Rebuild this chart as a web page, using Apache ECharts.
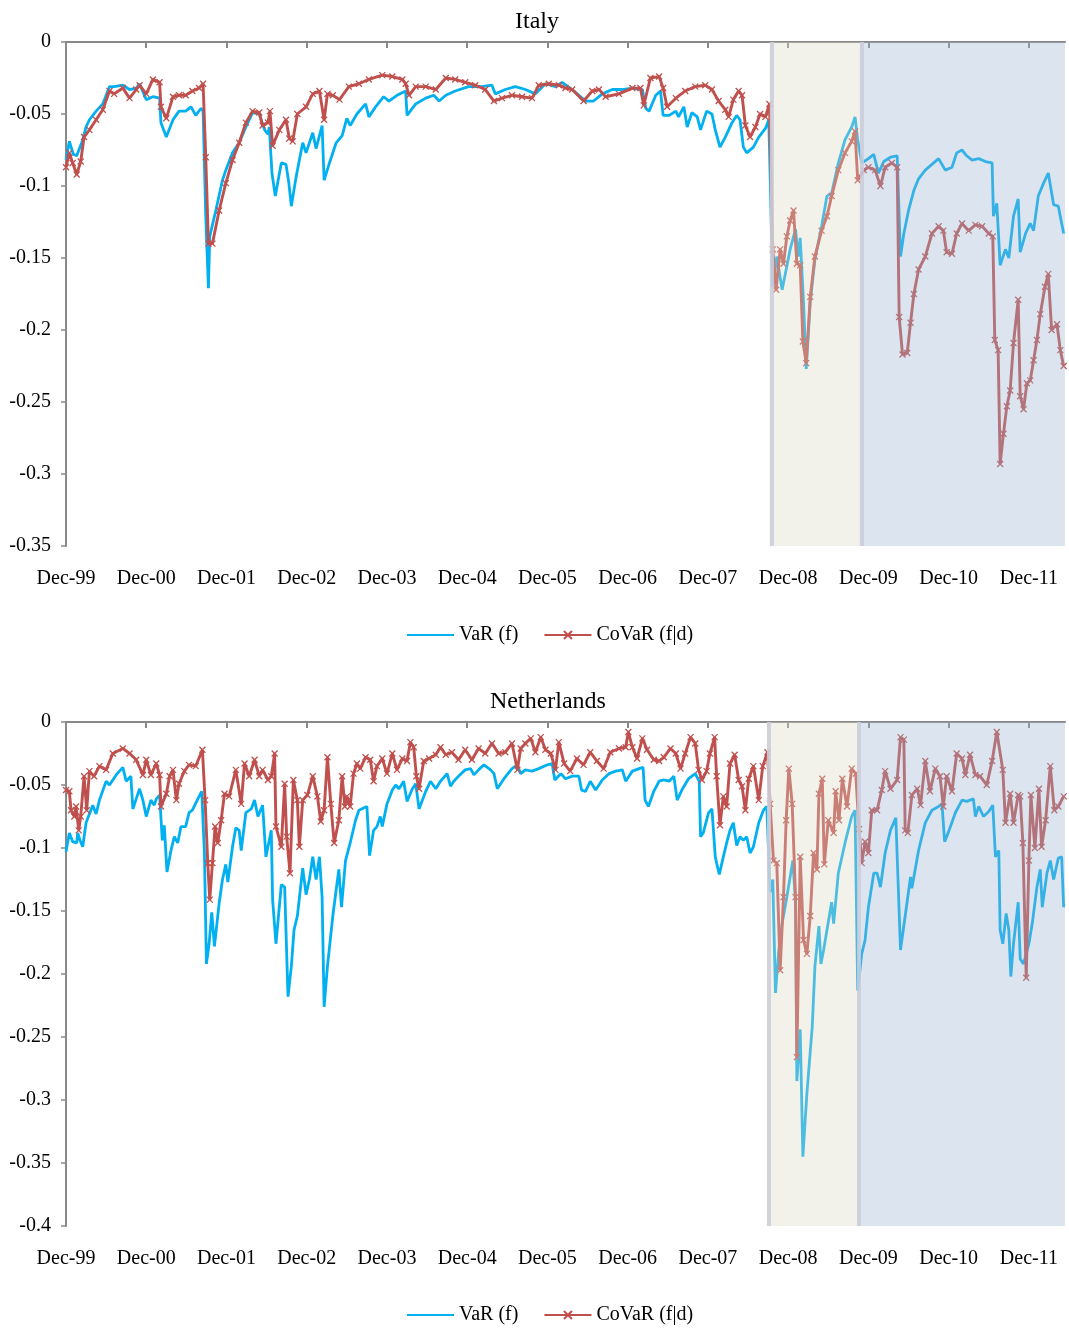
<!DOCTYPE html>
<html>
<head>
<meta charset="utf-8">
<script src="https://cdn.jsdelivr.net/npm/echarts@6/dist/echarts.min.js"></script>
<style>html,body{margin:0;padding:0;background:#fff}#main{width:1069px;height:1331px}</style>
</head>
<body>
<div id="main"></div>
<script>
// x values: months since Dec-1999
const tickLabels = ['Dec-99','Dec-00','Dec-01','Dec-02','Dec-03','Dec-04','Dec-05','Dec-06','Dec-07','Dec-08','Dec-09','Dec-10','Dec-11'];
const tickMonths = [0,12,24,36,48,60,72,84,96,108,120,132,144];
const xMax = 149.4;
const seriesNames = ['VaR (f)', 'CoVaR (f|d)'];
const italyPeriods = [105.2, 118.7];
const nlPeriods = [104.8, 118.3];

const italyVaR = [[0,-0.082],[0.5,-0.069],[1.1,-0.078],[1.6,-0.079],[2.5,-0.068],[3,-0.059],[3.5,-0.054],[4.5,-0.048],[5.5,-0.043],[6.5,-0.031],[7.2,-0.031],[8.5,-0.030],[9.5,-0.033],[10.5,-0.032],[11,-0.029],[12,-0.040],[13,-0.038],[14,-0.039],[14.2,-0.056],[15,-0.066],[16,-0.054],[16.9,-0.048],[17.9,-0.048],[18.7,-0.045],[19.4,-0.051],[20.2,-0.046],[20.5,-0.048],[20.9,-0.121],[21.3,-0.171],[21.5,-0.135],[22.4,-0.117],[23.4,-0.096],[23.9,-0.089],[24.9,-0.077],[25.9,-0.070],[26.9,-0.059],[27.9,-0.049],[28.9,-0.050],[29.7,-0.061],[30.2,-0.064],[30.4,-0.059],[30.8,-0.091],[31.3,-0.107],[32.2,-0.084],[32.9,-0.085],[33.3,-0.097],[33.7,-0.114],[34.4,-0.094],[35.4,-0.070],[35.9,-0.077],[36.9,-0.063],[37.4,-0.074],[38.3,-0.058],[38.6,-0.096],[39.4,-0.084],[40.4,-0.070],[41.3,-0.065],[42,-0.053],[42.5,-0.058],[43.5,-0.050],[44.8,-0.043],[45.3,-0.052],[46.3,-0.045],[47.5,-0.038],[48.3,-0.041],[49.5,-0.037],[50.8,-0.034],[51,-0.051],[52.3,-0.043],[53.8,-0.039],[55,-0.037],[55.8,-0.041],[56.8,-0.037],[58.2,-0.034],[60.2,-0.031],[62.2,-0.031],[63.7,-0.030],[64.2,-0.036],[65.7,-0.033],[67.2,-0.031],[68.7,-0.033],[70.2,-0.036],[71.7,-0.029],[73.2,-0.031],[74.2,-0.028],[75.7,-0.033],[77.7,-0.041],[78.9,-0.041],[80.2,-0.036],[81.7,-0.033],[83.2,-0.033],[84.7,-0.032],[86.2,-0.033],[86.7,-0.046],[87.2,-0.048],[88.2,-0.037],[88.9,-0.034],[89.3,-0.051],[90.2,-0.051],[91.2,-0.048],[91.6,-0.052],[92.4,-0.045],[92.9,-0.059],[93.6,-0.049],[94.4,-0.052],[94.9,-0.061],[95.8,-0.048],[96.6,-0.050],[97.1,-0.061],[97.8,-0.073],[98.6,-0.066],[99.6,-0.056],[100.3,-0.051],[100.8,-0.054],[101.3,-0.073],[101.8,-0.077],[102.8,-0.073],[103.6,-0.066],[104.6,-0.060],[105.1,-0.054],[105.7,-0.170],[106.3,-0.149],[107.1,-0.172],[107.7,-0.158],[108.3,-0.144],[109.1,-0.130],[109.5,-0.149],[109.8,-0.136],[110.3,-0.181],[110.7,-0.227],[111.3,-0.181],[112,-0.151],[113,-0.128],[113.8,-0.107],[114.5,-0.105],[115.5,-0.084],[116.5,-0.068],[117.5,-0.059],[118,-0.052],[118.4,-0.068],[119,-0.084],[120,-0.081],[120.8,-0.078],[121.5,-0.091],[122.3,-0.083],[123.3,-0.080],[124.3,-0.079],[124.8,-0.149],[125.3,-0.133],[126,-0.117],[126.8,-0.103],[127.5,-0.095],[128.5,-0.089],[129.5,-0.085],[130.5,-0.081],[131.5,-0.089],[132.5,-0.087],[133.2,-0.077],[134,-0.075],[134.7,-0.079],[135.5,-0.082],[136.5,-0.081],[137.5,-0.083],[138.5,-0.084],[138.7,-0.121],[139.2,-0.112],[139.7,-0.155],[140.5,-0.144],[141,-0.150],[141.7,-0.121],[142.4,-0.109],[142.7,-0.146],[143.5,-0.133],[144.2,-0.126],[144.7,-0.131],[145.4,-0.107],[146.2,-0.098],[146.9,-0.091],[147.7,-0.113],[148.4,-0.114],[149.2,-0.133]];

const italyCoVaR = [[0,-0.087],[0.5,-0.077],[1,-0.084],[1.6,-0.092],[2.2,-0.083],[2.7,-0.066],[3.5,-0.061],[4.5,-0.054],[5.5,-0.047],[6.5,-0.034],[7.2,-0.036],[8.5,-0.032],[9.5,-0.039],[10.5,-0.033],[11,-0.030],[12,-0.036],[13,-0.026],[14,-0.028],[14.2,-0.045],[15,-0.053],[16,-0.038],[16.9,-0.037],[17.9,-0.037],[18.9,-0.034],[19.9,-0.032],[20.5,-0.029],[20.9,-0.080],[21.3,-0.140],[21.9,-0.140],[22.9,-0.117],[23.9,-0.098],[24.9,-0.082],[25.9,-0.070],[26.9,-0.056],[27.9,-0.048],[28.9,-0.049],[29.4,-0.058],[30.2,-0.056],[30.5,-0.048],[30.9,-0.072],[31.9,-0.061],[32.9,-0.054],[33.4,-0.067],[33.9,-0.069],[34.6,-0.050],[35.9,-0.045],[36.9,-0.036],[37.9,-0.034],[38.6,-0.054],[39.1,-0.036],[39.9,-0.037],[40.9,-0.040],[42.3,-0.031],[43.8,-0.029],[45.3,-0.026],[47.3,-0.023],[48.8,-0.024],[50.3,-0.026],[50.8,-0.029],[51.3,-0.037],[52.3,-0.031],[53.8,-0.031],[55.3,-0.033],[56.8,-0.025],[58.2,-0.026],[59.7,-0.028],[61.2,-0.030],[62.7,-0.033],[64,-0.041],[65.2,-0.039],[66.7,-0.037],[68.2,-0.038],[69.7,-0.039],[70.7,-0.030],[72.2,-0.029],[73.7,-0.030],[74.7,-0.032],[75.7,-0.033],[77.4,-0.041],[78.7,-0.034],[79.7,-0.033],[80.7,-0.038],[82.7,-0.036],[84.7,-0.032],[85.9,-0.032],[86.4,-0.044],[87.4,-0.025],[88.7,-0.024],[89.3,-0.032],[89.9,-0.045],[91.2,-0.039],[92.6,-0.034],[94.1,-0.031],[95.6,-0.030],[96.6,-0.033],[97.6,-0.041],[98.6,-0.047],[99.1,-0.052],[99.8,-0.040],[100.6,-0.034],[101.1,-0.037],[101.6,-0.058],[102.3,-0.066],[103.1,-0.059],[103.8,-0.050],[104.6,-0.052],[105.2,-0.043],[105.7,-0.144],[106.2,-0.172],[106.8,-0.144],[107.3,-0.154],[107.8,-0.135],[108.3,-0.124],[108.8,-0.117],[109.3,-0.154],[109.8,-0.155],[110.2,-0.208],[110.7,-0.223],[111.3,-0.177],[112,-0.149],[113,-0.131],[113.8,-0.121],[114.5,-0.107],[115.5,-0.089],[116.5,-0.077],[117.5,-0.069],[118,-0.062],[118.4,-0.096],[119.3,-0.089],[120,-0.087],[121,-0.089],[121.8,-0.100],[122.5,-0.087],[123.5,-0.084],[124.3,-0.087],[124.6,-0.191],[125.1,-0.217],[125.8,-0.216],[126.3,-0.195],[126.8,-0.175],[127.5,-0.158],[128.5,-0.149],[129.5,-0.133],[130.5,-0.128],[131.2,-0.131],[131.7,-0.146],[132.5,-0.147],[133.2,-0.133],[134,-0.126],[135,-0.131],[136,-0.127],[137,-0.128],[138,-0.133],[138.6,-0.135],[138.9,-0.207],[139.4,-0.214],[139.7,-0.293],[140.2,-0.272],[140.7,-0.253],[141.2,-0.242],[141.7,-0.209],[142.4,-0.179],[142.7,-0.246],[143.2,-0.255],[143.7,-0.237],[144.2,-0.235],[144.7,-0.221],[145.2,-0.207],[145.7,-0.189],[146.4,-0.170],[146.9,-0.161],[147.4,-0.200],[148.2,-0.196],[148.7,-0.214],[149.2,-0.225]];

const nlVaR = [[0,-0.103],[0.5,-0.088],[1,-0.095],[1.6,-0.096],[1.75,-0.088],[2.1,-0.094],[2.5,-0.099],[3,-0.080],[4,-0.066],[4.5,-0.073],[5,-0.062],[6,-0.047],[6.5,-0.050],[7.5,-0.042],[8.5,-0.036],[9,-0.047],[9.7,-0.043],[10,-0.069],[10.5,-0.061],[11,-0.053],[11.5,-0.062],[12,-0.075],[12.7,-0.062],[13.2,-0.066],[13.5,-0.061],[14,-0.058],[14.4,-0.094],[14.7,-0.082],[15.1,-0.119],[15.7,-0.102],[16.2,-0.091],[16.7,-0.096],[17.2,-0.083],[17.9,-0.083],[18.4,-0.072],[18.9,-0.070],[19.9,-0.059],[20.3,-0.055],[20.7,-0.104],[21,-0.192],[21.4,-0.176],[21.8,-0.151],[22.2,-0.178],[22.9,-0.144],[23.4,-0.125],[23.9,-0.113],[24.2,-0.127],[24.9,-0.099],[25.4,-0.084],[25.9,-0.086],[26.2,-0.102],[26.9,-0.072],[27.7,-0.069],[28.2,-0.062],[28.7,-0.075],[29.4,-0.066],[29.9,-0.107],[30.7,-0.086],[30.9,-0.141],[31.4,-0.176],[32.2,-0.129],[32.7,-0.131],[33.2,-0.218],[33.7,-0.194],[34.1,-0.165],[34.6,-0.154],[35.4,-0.116],[35.9,-0.137],[36.4,-0.125],[36.9,-0.107],[37.4,-0.125],[37.9,-0.107],[38.3,-0.139],[38.6,-0.226],[39.1,-0.194],[39.9,-0.154],[40.8,-0.117],[41.2,-0.147],[41.8,-0.110],[42.5,-0.096],[43.3,-0.078],[43.8,-0.070],[45,-0.067],[45.4,-0.106],[46,-0.086],[46.5,-0.083],[47,-0.075],[47.3,-0.083],[48,-0.065],[48.8,-0.054],[49.3,-0.050],[49.8,-0.053],[50.5,-0.047],[51,-0.063],[51.8,-0.053],[52.3,-0.049],[52.8,-0.069],[53.8,-0.055],[54.5,-0.047],[55.3,-0.053],[56,-0.047],[57,-0.041],[57.5,-0.051],[58,-0.047],[58.7,-0.043],[59.7,-0.038],[60.5,-0.037],[61,-0.042],[61.7,-0.038],[62.5,-0.034],[63.5,-0.038],[64,-0.041],[64.5,-0.053],[65.5,-0.045],[66.7,-0.037],[67.5,-0.034],[68,-0.041],[68.7,-0.038],[69.7,-0.039],[70.7,-0.037],[72,-0.034],[72.7,-0.033],[73.1,-0.046],[74,-0.041],[74.7,-0.045],[75.7,-0.043],[76.7,-0.043],[77.1,-0.054],[77.7,-0.055],[78.4,-0.047],[79.2,-0.054],[80.2,-0.046],[81.2,-0.041],[82.2,-0.039],[83.2,-0.038],[83.7,-0.047],[84.7,-0.039],[85.7,-0.037],[86.3,-0.036],[86.6,-0.062],[87.1,-0.067],[87.9,-0.055],[88.7,-0.047],[89.4,-0.046],[90.2,-0.047],[90.9,-0.043],[91.4,-0.062],[92.1,-0.054],[93.1,-0.045],[94.1,-0.041],[94.7,-0.047],[94.9,-0.091],[95.3,-0.088],[96.1,-0.072],[96.6,-0.069],[97.1,-0.107],[97.3,-0.112],[97.7,-0.121],[98.3,-0.107],[98.8,-0.096],[99.3,-0.086],[99.8,-0.080],[100.3,-0.098],[100.8,-0.091],[101.3,-0.094],[101.8,-0.091],[102.3,-0.104],[102.8,-0.099],[103.6,-0.080],[104.3,-0.070],[104.8,-0.067],[105.3,-0.135],[105.7,-0.125],[106.1,-0.215],[106.6,-0.181],[107.1,-0.160],[107.8,-0.139],[108.7,-0.110],[109.1,-0.144],[109.3,-0.285],[109.8,-0.244],[110.2,-0.345],[110.8,-0.295],[111.6,-0.242],[112,-0.194],[112.6,-0.162],[112.9,-0.192],[113.3,-0.181],[113.8,-0.165],[114.5,-0.143],[114.8,-0.160],[115.5,-0.120],[116.5,-0.096],[117.5,-0.075],[118,-0.070],[118.4,-0.213],[119,-0.184],[119.5,-0.173],[120,-0.147],[120.8,-0.120],[121.3,-0.120],[121.8,-0.131],[122.5,-0.104],[123.3,-0.086],[124.1,-0.076],[124.8,-0.181],[125.5,-0.154],[126.3,-0.123],[126.5,-0.132],[127.5,-0.102],[128.5,-0.080],[129.5,-0.070],[130.5,-0.067],[131,-0.065],[131.4,-0.095],[132,-0.087],[133,-0.072],[134,-0.062],[134.7,-0.063],[135.7,-0.061],[136,-0.075],[136.5,-0.067],[137.2,-0.075],[138,-0.071],[138.6,-0.066],[139,-0.107],[139.5,-0.102],[139.7,-0.165],[140.1,-0.176],[140.6,-0.152],[141,-0.165],[141.3,-0.202],[141.7,-0.176],[142.4,-0.143],[142.7,-0.188],[143.2,-0.192],[144,-0.176],[144.5,-0.160],[145.2,-0.131],[145.7,-0.117],[146,-0.147],[146.7,-0.120],[147.2,-0.110],[147.7,-0.125],[148.4,-0.108],[148.9,-0.107],[149.2,-0.147]];

const nlCoVaR = [[0,-0.054],[0.5,-0.055],[0.75,-0.070],[1.25,-0.075],[1.5,-0.067],[1.9,-0.086],[2.2,-0.075],[2.7,-0.043],[3.1,-0.070],[3.5,-0.039],[4.2,-0.043],[5,-0.035],[6,-0.038],[7,-0.025],[8.5,-0.021],[9.5,-0.025],[10.5,-0.030],[11.5,-0.042],[12,-0.030],[12.7,-0.042],[13.5,-0.033],[14,-0.042],[14.2,-0.067],[15,-0.057],[15.5,-0.043],[16,-0.038],[16.5,-0.062],[16.9,-0.049],[17.7,-0.039],[18.4,-0.034],[19.4,-0.035],[20.4,-0.022],[20.8,-0.062],[21.2,-0.112],[21.5,-0.141],[21.9,-0.112],[22.3,-0.083],[22.7,-0.096],[23.2,-0.078],[23.7,-0.057],[24.4,-0.059],[25.4,-0.038],[26.2,-0.065],[26.7,-0.033],[27.4,-0.043],[28.2,-0.030],[28.9,-0.043],[29.4,-0.038],[30.2,-0.046],[30.7,-0.043],[31.2,-0.025],[31.4,-0.083],[32.2,-0.099],[32.7,-0.049],[33,-0.091],[33.5,-0.120],[34,-0.046],[34.6,-0.062],[34.9,-0.099],[35.4,-0.062],[36.1,-0.058],[36.9,-0.043],[37.6,-0.059],[38.1,-0.079],[38.6,-0.070],[39.1,-0.028],[39.6,-0.065],[40.1,-0.096],[40.8,-0.078],[41.3,-0.043],[41.7,-0.067],[42,-0.059],[42.5,-0.067],[43,-0.041],[43.5,-0.033],[44,-0.037],[44.8,-0.028],[45.5,-0.030],[46,-0.047],[46.5,-0.035],[47.3,-0.029],[48,-0.041],[48.8,-0.025],[49.5,-0.038],[50.3,-0.029],[51,-0.031],[51.5,-0.016],[52,-0.020],[52.4,-0.043],[52.8,-0.053],[53.5,-0.031],[54.3,-0.029],[55.3,-0.026],[56,-0.020],[56.8,-0.026],[57.7,-0.024],[58.7,-0.030],[59.7,-0.022],[60.7,-0.030],[61.7,-0.021],[62.7,-0.025],[63.7,-0.017],[64.7,-0.025],[65.7,-0.024],[66.7,-0.017],[67.5,-0.038],[68,-0.021],[68.7,-0.017],[69.5,-0.013],[70.2,-0.024],[71,-0.012],[71.7,-0.022],[72.5,-0.025],[73.2,-0.038],[73.7,-0.016],[74.5,-0.033],[75.4,-0.039],[76.4,-0.029],[77.4,-0.034],[78.4,-0.024],[79.4,-0.031],[80.4,-0.037],[81.4,-0.024],[82.7,-0.021],[83.7,-0.020],[84.1,-0.008],[84.7,-0.020],[85.4,-0.029],[86.2,-0.013],[86.9,-0.022],[87.9,-0.030],[88.7,-0.031],[89.4,-0.028],[90.4,-0.021],[91.2,-0.025],[91.9,-0.037],[92.6,-0.025],[93.4,-0.012],[94.1,-0.017],[94.6,-0.038],[95.1,-0.046],[95.8,-0.039],[96.3,-0.025],[97,-0.012],[97.3,-0.043],[97.8,-0.082],[98.3,-0.059],[98.8,-0.067],[99.3,-0.033],[100,-0.026],[100.6,-0.046],[101.1,-0.051],[101.6,-0.070],[102.1,-0.045],[102.8,-0.035],[103.6,-0.062],[104.2,-0.035],[104.9,-0.024],[105.3,-0.065],[105.8,-0.110],[106.3,-0.112],[106.8,-0.197],[107.3,-0.139],[107.7,-0.078],[108.1,-0.037],[108.6,-0.065],[109.1,-0.139],[109.3,-0.266],[109.8,-0.107],[110.3,-0.173],[110.8,-0.184],[111.3,-0.154],[111.8,-0.104],[112.3,-0.117],[112.6,-0.057],[113.1,-0.045],[113.4,-0.113],[114,-0.078],[114.8,-0.088],[115.1,-0.055],[115.6,-0.078],[116.1,-0.045],[116.8,-0.067],[117.5,-0.037],[118.1,-0.041],[118.6,-0.085],[119,-0.112],[119.5,-0.095],[120,-0.104],[120.5,-0.070],[121.3,-0.070],[122,-0.054],[122.5,-0.039],[123.3,-0.053],[124.3,-0.046],[124.8,-0.012],[125.3,-0.014],[125.5,-0.086],[125.9,-0.088],[126.5,-0.058],[127.3,-0.053],[127.8,-0.066],[128.5,-0.031],[129.2,-0.055],[130,-0.037],[130.7,-0.043],[131.2,-0.067],[131.7,-0.043],[132.5,-0.055],[133.2,-0.025],[134,-0.029],[134.5,-0.042],[135.2,-0.026],[136,-0.042],[136.7,-0.043],[137.7,-0.050],[138.5,-0.031],[139.2,-0.008],[140.1,-0.038],[140.5,-0.080],[141.2,-0.057],[141.7,-0.080],[142.4,-0.058],[142.7,-0.059],[143.1,-0.096],[143.6,-0.203],[144,-0.110],[144.3,-0.058],[144.9,-0.100],[145.5,-0.053],[145.9,-0.099],[146.5,-0.078],[147.2,-0.035],[147.8,-0.070],[148.4,-0.067],[149.2,-0.059]];

const FONT = 'Liberation Serif';
const AXIS_COLOR = '#898989';
const BLUE = '#00B0F0';
const RED = '#C0504D';
const XMARK = 'path://M0,0L10,10M10,0L0,10';

function xLabelFmt(v) {
  const k = Math.round(v / 12);
  return Math.abs(v - k * 12) < 1e-6 && tickLabels[k] ? tickLabels[k] : '';
}

function xAxes(gi) {
  return [
    { gridIndex: gi, type: 'value', min: 0, max: xMax, interval: 12, position: 'bottom',
      axisLine: { show: false, onZero: false }, axisTick: { show: false },
      splitLine: { show: false },
      axisLabel: { customValues: tickMonths, formatter: xLabelFmt, margin: 23, fontSize: 20, fontFamily: FONT, color: '#000' } },
    { gridIndex: gi, type: 'value', min: 0, max: xMax, interval: 12, position: 'top',
      axisLine: { show: true, onZero: false, lineStyle: { color: AXIS_COLOR, width: 2 } },
      axisTick: { show: true, inside: true, length: 6, customValues: tickMonths, lineStyle: { color: AXIS_COLOR, width: 2 } },
      axisLabel: { show: false }, splitLine: { show: false } }
  ];
}
function yAxis(gi, min) {
  return { gridIndex: gi, type: 'value', min: min, max: 0, interval: 0.05,
    axisLine: { show: true, onZero: false, lineStyle: { color: AXIS_COLOR, width: 2 } },
    axisTick: { show: true, length: 5, lineStyle: { color: AXIS_COLOR, width: 1.5 } },
    splitLine: { show: false },
    axisLabel: { formatter: v => String(+v.toFixed(2)), margin: 15, fontSize: 20, fontFamily: FONT, color: '#000' } };
}
function seriesFor(gi, varData, covarData, periods) {
  return [
    { name: seriesNames[0], type: 'line', xAxisIndex: gi * 2, yAxisIndex: gi, data: varData,
      symbol: 'none', z: 2, lineStyle: { color: BLUE, width: 2.8 }, itemStyle: { color: BLUE } },
    { name: seriesNames[1], type: 'line', xAxisIndex: gi * 2, yAxisIndex: gi, data: covarData,
      symbol: XMARK, symbolSize: 6, z: 3, lineStyle: { color: RED, width: 2.9 },
      itemStyle: { color: RED, borderColor: RED, borderWidth: 1.3 } },
    { name: 'shade' + gi, type: 'line', xAxisIndex: gi * 2, yAxisIndex: gi, data: [], z: 10, silent: true,
      markArea: { silent: true, z: 10, data: [
        [{ xAxis: periods[0], itemStyle: { color: 'rgba(218,215,195,0.35)' } }, { xAxis: periods[1] }],
        [{ xAxis: periods[1], itemStyle: { color: 'rgba(155,181,209,0.35)' } }, { xAxis: xMax }]
      ] },
      markLine: { silent: true, z: 11, symbol: ['none', 'none'], label: { show: false },
        lineStyle: { color: 'rgba(205,205,218,0.85)', width: 4, type: 'solid' },
        data: [{ xAxis: periods[0] + 0.3 }, { xAxis: periods[1] + 0.3 }] } }
  ];
}
function legendFor(top) {
  return { left: 406, top: top, itemWidth: 47, itemHeight: 10, itemGap: 25, padding: 0,
    data: [
      { name: seriesNames[0], itemStyle: { color: 'rgba(0,0,0,0)', opacity: 0, borderWidth: 0 } },
      { name: seriesNames[1] }
    ],
    textStyle: { fontFamily: FONT, fontSize: 20, color: '#000' } };
}

const chart = echarts.init(document.getElementById('main'), null, { renderer: 'canvas' });
chart.setOption({
  animation: false,
  backgroundColor: '#fff',
  title: [
    { text: 'Italy', left: 515, top: 10, padding: 0, textStyle: { fontFamily: FONT, fontSize: 24, fontWeight: 'normal', color: '#000' } },
    { text: 'Netherlands', left: 490, top: 690, padding: 0, textStyle: { fontFamily: FONT, fontSize: 24, fontWeight: 'normal', color: '#000' } }
  ],
  legend: [legendFor(625), legendFor(1305)],
  grid: [
    { left: 66, top: 42, width: 999, height: 504 },
    { left: 66, top: 722, width: 999, height: 504 }
  ],
  xAxis: xAxes(0).concat(xAxes(1)),
  yAxis: [yAxis(0, -0.35), yAxis(1, -0.4)],
  series: seriesFor(0, italyVaR, italyCoVaR, italyPeriods).concat(seriesFor(1, nlVaR, nlCoVaR, nlPeriods))
});
</script>
</body>
</html>
